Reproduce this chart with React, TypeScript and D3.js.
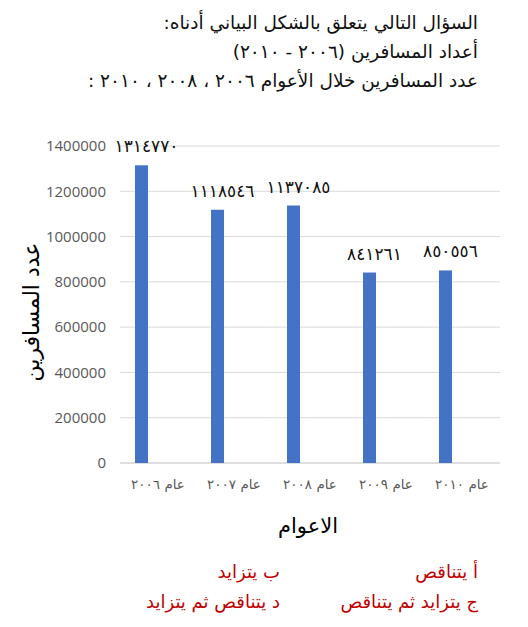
import * as d3 from "d3";

const categories = ["عام ٢٠٠٦", "عام ٢٠٠٧", "عام ٢٠٠٨", "عام ٢٠٠٩", "عام ٢٠١٠"];
const values = [1314770, 1118546, 1137085, 841261, 850556];
const valueLabels = ["١٣١٤٧٧٠", "١١١٨٥٤٦", "١١٣٧٠٨٥", "٨٤١٢٦١", "٨٥٠٥٥٦"];
const yTicks = [0, 200000, 400000, 600000, 800000, 1000000, 1200000, 1400000];

const titleLines = [
  "السؤال التالي يتعلق بالشكل البياني أدناه:",
  "أعداد المسافرين (٢٠٠٦ - ٢٠١٠)",
  "عدد المسافرين خلال الأعوام ٢٠٠٦ ، ٢٠٠٨ ، ٢٠١٠ :",
];
const answers = [
  ["أ يتناقص", "ب يتزايد"],
  ["ج يتزايد ثم يتناقص", "د يتناقص ثم يتزايد"],
];

const W = 528;
const H = 627;
const arabicFont = "'DejaVu Sans', 'Noto Sans', sans-serif";

export default function App() {
  const margin = { left: 120, right: 28, top: 146, bottom: 164 };
  const x = d3
    .scaleBand<string>()
    .domain(categories)
    .range([margin.left, W - margin.right]);
  const y = d3
    .scaleLinear()
    .domain([0, 1400000])
    .range([H - margin.bottom, margin.top]);

  const barW = 13;
  const barOffset = 15; // bar sits left within its band (empty second series)

  return (
    <svg
      width={W}
      height={H}
      style={{ position: "absolute", left: 0, top: 0, background: "#fff" }}
    >
      {/* question text */}
      {titleLines.map((t, i) => (
        <text
          key={i}
          x={478}
          y={29 + i * 29}
          direction="rtl"
          textAnchor="start"
          fontFamily={arabicFont}
          fontSize={18.5}
          fill="#111"
        >
          {t}
        </text>
      ))}

      {/* gridlines */}
      {yTicks.map((t) => (
        <line
          key={t}
          x1={margin.left}
          x2={W - margin.right}
          y1={y(t)}
          y2={y(t)}
          stroke={t === 0 ? "#bfbfbf" : "#d9d9d9"}
          strokeWidth={1}
        />
      ))}

      {/* y tick labels */}
      {yTicks.map((t) => (
        <text
          key={t}
          x={106}
          y={y(t)}
          dy="0.35em"
          textAnchor="end"
          fontFamily="'Open Sans', 'Liberation Sans', sans-serif"
          fontSize={15}
          fill="#595959"
        >
          {t}
        </text>
      ))}

      {/* bars */}
      {categories.map((c, i) => (
        <rect
          key={c}
          x={(x(c) ?? 0) + barOffset}
          y={y(values[i])}
          width={barW}
          height={y(0) - y(values[i])}
          fill="#4472C4"
        />
      ))}

      {/* value labels */}
      {categories.map((c, i) => (
        <text
          key={c}
          x={(x(c) ?? 0) + barOffset + barW / 2 + 5}
          y={y(values[i]) - 13}
          textAnchor="middle"
          fontFamily={arabicFont}
          fontSize={17}
          letterSpacing={1.5}
          fill="#111"
        >
          {valueLabels[i]}
        </text>
      ))}

      {/* category labels */}
      {categories.map((c) => (
        <text
          key={c}
          x={(x(c) ?? 0) + x.bandwidth() / 2}
          y={489}
          direction="rtl"
          textAnchor="middle"
          fontFamily={arabicFont}
          fontSize={13.5}
          fill="#595959"
        >
          {c}
        </text>
      ))}

      {/* axis titles */}
      <text
        transform={`translate(39,${312}) rotate(-90)`}
        direction="rtl"
        textAnchor="middle"
        fontFamily={arabicFont}
        fontSize={22}
        fill="#000"
      >
        عدد المسافرين
      </text>
      <text
        x={308}
        y={533}
        direction="rtl"
        textAnchor="middle"
        fontFamily={arabicFont}
        fontSize={21}
        fill="#000"
      >
        الاعوام
      </text>

      {/* answer choices */}
      {answers.map((row, r) =>
        row.map((a, k) => (
          <text
            key={a}
            x={k === 0 ? 478 : 280}
            y={578 + r * 30}
            direction="rtl"
            textAnchor="start"
            fontFamily={arabicFont}
            fontSize={18}
            fill="#C00000"
          >
            {a}
          </text>
        ))
      )}
    </svg>
  );
}
